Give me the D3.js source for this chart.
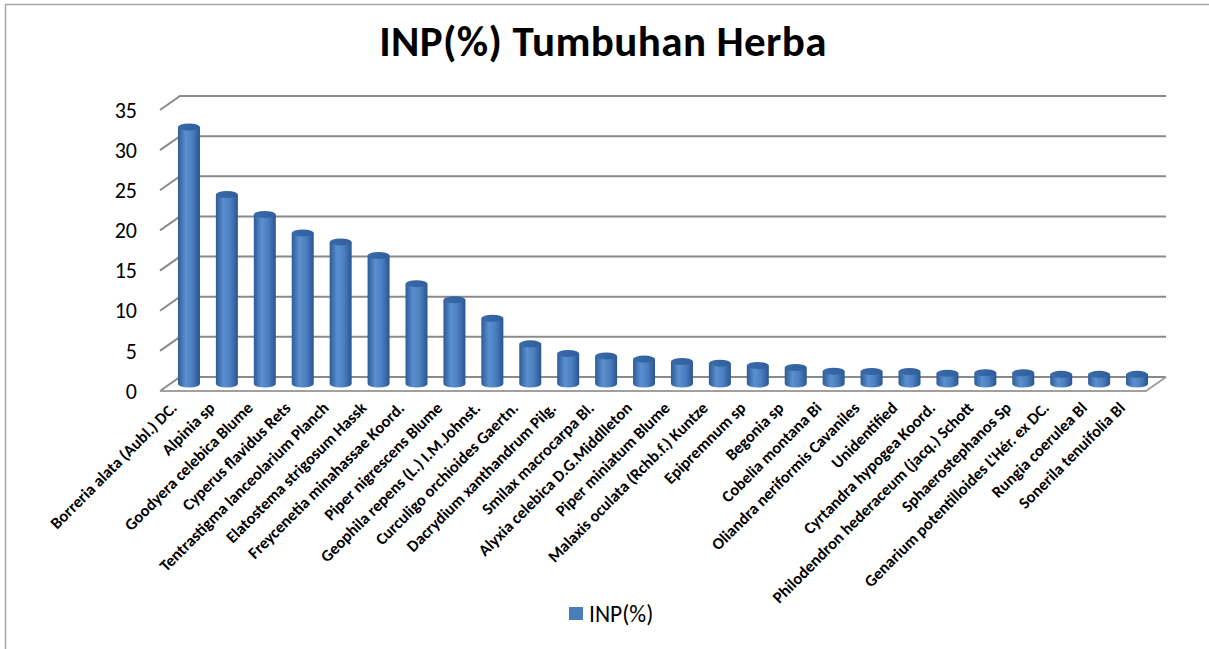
<!DOCTYPE html>
<html>
<head>
<meta charset="utf-8">
<script src="https://cdn.jsdelivr.net/npm/d3@7/dist/d3.min.js"></script>
<style>
  body { margin: 0; background: #fff; }
  svg { display: block; font-family: Carlito, Calibri, Lato, sans-serif; }
</style>
</head>
<body>
<svg id="chart" width="1209" height="649"></svg>
<script>
var chartTitle = "INP(%) Tumbuhan Herba";
var seriesName = "INP(%)";

var species = [
  "Borreria alata (Aubl.) DC.",
  "Alpinia sp",
  "Goodyera celebica Blume",
  "Cyperus flavidus Rets",
  "Tentrastigma lanceolarium Planch",
  "Elatostema strigosum Hassk",
  "Freycenetia minahassae Koord.",
  "Piper nigrescens Blume",
  "Geophila repens (L.) I.M.Johnst.",
  "Curculigo orchioides Gaertn.",
  "Dacrydium xanthandrum  Pilg.",
  "Smilax macrocarpa Bl.",
  "Alyxia celebica D.G.Middlleton",
  "Piper miniatum Blume",
  "Malaxis oculata (Rchb.f.) Kuntze",
  "Epipremnum sp",
  "Begonia sp",
  "Cobelia montana Bi",
  "Oliandra neriformis Cavaniles",
  "Unidentified",
  "Cyrtandra hypogea Koord.",
  "Philodendron hederaceum (jacq.) Schott",
  "Sphaerostephanos Sp",
  "Genarium potentilloides  L'Hér. ex DC.",
  "Rungia coerulea Bl",
  "Sonerila tenuifolia Bl"
];

var inp = [32.0, 23.6, 21.1, 18.8, 17.7, 16.0, 12.5, 10.5, 8.2, 5.0,
           3.8, 3.5, 3.1, 2.8, 2.6, 2.3, 2.05, 1.6, 1.55, 1.55,
           1.35, 1.4, 1.4, 1.2, 1.2, 1.2];

var yTicks = [0, 5, 10, 15, 20, 25, 30, 35];

var svg = d3.select("#chart");

// outer chart border (only top and left show in the frame)
svg.append("path")
  .attr("d", "M5.5,649 L5.5,4.5 L1209,4.5")
  .attr("fill", "none")
  .attr("stroke", "#a6a6a6")
  .attr("stroke-width", 1.5);

// 3d box: back wall vs front edge offset
var depthX = 20, depthY = -14;
var frontLeft = 160, frontRight = 1146;

var yBack = d3.scaleLinear().domain([0, 35]).range([377, 96]);
var x = d3.scaleBand().domain(species).range([frontLeft, frontRight]);

var grid = svg.append("g").attr("class", "grid");

// back wall gridlines + side wall diagonal
yTicks.forEach(function(t) {
  var yb = yBack(t);
  grid.append("path")
    .attr("d", "M" + frontLeft + "," + (yb - depthY) +
               " L" + (frontLeft + depthX) + "," + yb +
               " L" + (frontRight + depthX) + "," + yb)
    .attr("fill", "none")
    .attr("stroke", "#8a8a8a")
    .attr("stroke-width", 2);
});

// floor edges
grid.append("path")
  .attr("d", "M" + frontLeft + "," + (yBack(0) - depthY) +
             " L" + frontRight + "," + (yBack(0) - depthY) +
             " L" + (frontRight + depthX) + "," + yBack(0))
  .attr("fill", "none")
  .attr("stroke", "#a0a0a0")
  .attr("stroke-width", 2);

// y axis labels
svg.append("g")
  .selectAll("text")
  .data(yTicks)
  .enter()
  .append("text")
    .attr("x", 137)
    .attr("y", function(d) { return yBack(d) - depthY; })
    .attr("dy", "0.35em")
    .attr("text-anchor", "end")
    .attr("font-size", 22)
    .attr("fill", "#000")
    .text(function(d) { return d; });

// cylinder shading
var defs = svg.append("defs");
var grad = defs.append("linearGradient")
  .attr("id", "cyl")
  .attr("x1", "0%").attr("x2", "100%")
  .attr("y1", "0%").attr("y2", "0%");
grad.append("stop").attr("offset", "0%").attr("stop-color", "#2d5c96");
grad.append("stop").attr("offset", "35%").attr("stop-color", "#5a8fd0");
grad.append("stop").attr("offset", "65%").attr("stop-color", "#4b7fc0");
grad.append("stop").attr("offset", "100%").attr("stop-color", "#2a5590");

var topGrad = defs.append("linearGradient")
  .attr("id", "cyltop")
  .attr("x1", "0%").attr("x2", "100%")
  .attr("y1", "0%").attr("y2", "0%");
topGrad.append("stop").attr("offset", "0%").attr("stop-color", "#3a6aa8");
topGrad.append("stop").attr("offset", "100%").attr("stop-color", "#2f5f9e");

// bars sit at mid depth
var yMid = function(v) { return yBack(v) - depthY / 2; };
var rx = 11, ry = 3.5;

var bars = svg.append("g")
  .selectAll("g.bar")
  .data(species)
  .enter()
  .append("g")
    .attr("class", "bar");

bars.append("path")
  .attr("fill", "url(#cyl)")
  .attr("d", function(d, i) {
    var cx = x(d) + x.bandwidth() / 2 + depthX / 2;
    var y0 = yMid(0), y1 = yMid(inp[i]);
    return "M" + (cx - rx) + "," + y1 +
      " L" + (cx - rx) + "," + y0 +
      " A" + rx + "," + ry + " 0 0 0 " + (cx + rx) + "," + y0 +
      " L" + (cx + rx) + "," + y1 + " Z";
  });

bars.append("ellipse")
  .attr("cx", function(d) { return x(d) + x.bandwidth() / 2 + depthX / 2; })
  .attr("cy", function(d, i) { return yMid(inp[i]); })
  .attr("rx", rx)
  .attr("ry", ry)
  .attr("fill", "url(#cyltop)");

// category labels, rotated
svg.append("g")
  .selectAll("text")
  .data(species)
  .enter()
  .append("text")
    .attr("transform", function(d) {
      var px = x(d) + x.bandwidth() / 2 - 1;
      return "translate(" + px + ",409) rotate(-45)";
    })
    .attr("text-anchor", "end")
    .attr("font-size", 16.5)
    .attr("font-weight", "bold")
    .attr("fill", "#000")
    .text(function(d) { return d; });

// title
svg.append("text")
  .attr("x", 603)
  .attr("y", 56)
  .attr("text-anchor", "middle")
  .attr("font-size", 43)
  .attr("font-weight", "bold")
  .attr("letter-spacing", 0.4)
  .attr("fill", "#000")
  .text(chartTitle);

// legend
var legend = svg.append("g").attr("transform", "translate(569,607)");
legend.append("rect")
  .attr("width", 14)
  .attr("height", 13)
  .attr("fill", "#4a7ebb");
legend.append("text")
  .attr("x", 20)
  .attr("y", 6.5)
  .attr("dy", "0.35em")
  .attr("font-size", 23.5)
  .attr("fill", "#000")
  .text(seriesName);
</script>
</body>
</html>
